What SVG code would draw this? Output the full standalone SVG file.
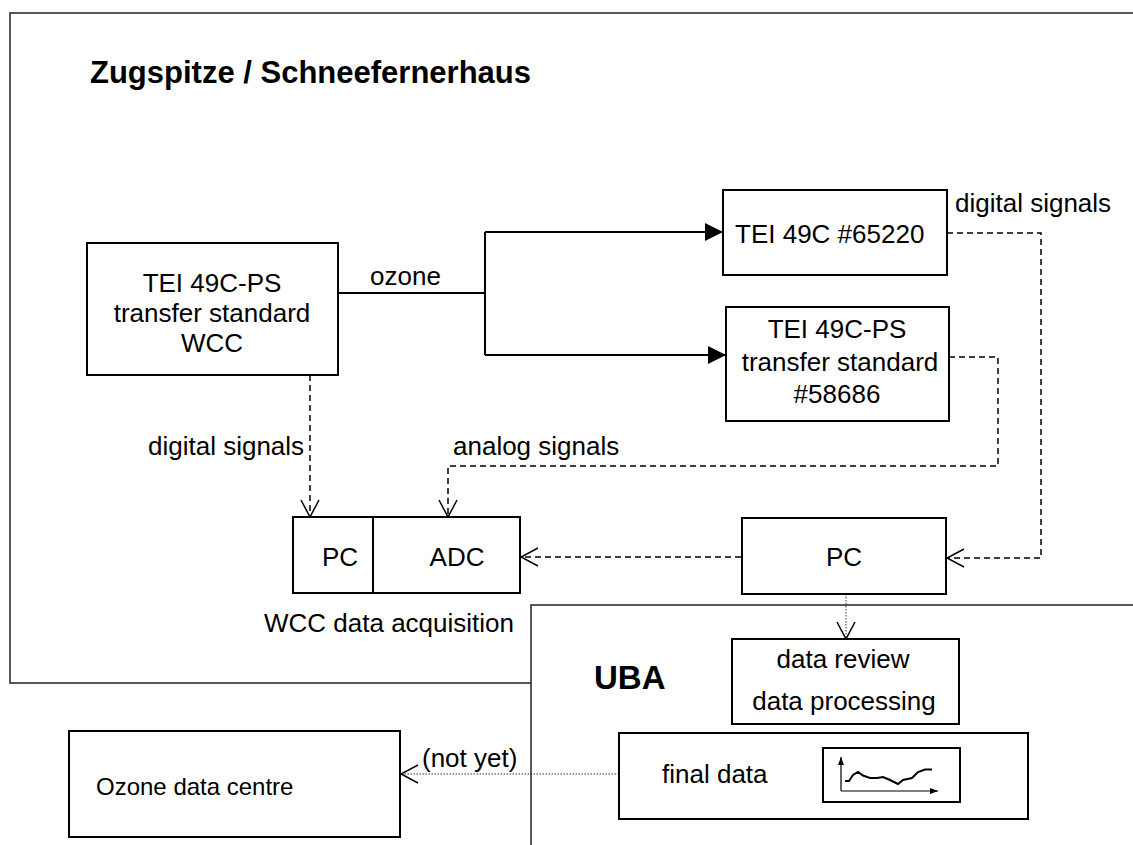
<svg xmlns="http://www.w3.org/2000/svg" width="1133" height="845" viewBox="0 0 1133 845">
<defs>
<style>
text{font-family:"Liberation Sans",Arial,sans-serif;font-size:26px;fill:#000}
.b{font-weight:bold;font-size:31px}
.c{text-anchor:middle}
.box{fill:#fff;stroke:#000;stroke-width:2}
.frame{fill:none;stroke:#222;stroke-width:1.5}
.solid{fill:none;stroke:#000;stroke-width:2}
.dash{fill:none;stroke:#000;stroke-width:1.5;stroke-dasharray:6 4}
.dot{fill:none;stroke:#333;stroke-width:1;stroke-dasharray:1.5 1.5}
</style>
<marker id="fa" viewBox="0 0 18 18" refX="18" refY="9" markerWidth="18" markerHeight="18" markerUnits="userSpaceOnUse" orient="auto">
<path d="M0,0 L18,9 L0,18 Z" fill="#000" stroke="none"/>
</marker>
<marker id="oa" viewBox="0 0 19 20" refX="18" refY="10" markerWidth="19" markerHeight="20" markerUnits="userSpaceOnUse" orient="auto">
<path d="M1,1 L18,10 L1,19" fill="none" stroke="#000" stroke-width="1.5" stroke-dasharray="none"/>
</marker>
<marker id="sa" viewBox="0 0 8 6" refX="8" refY="3" markerWidth="8" markerHeight="6" markerUnits="userSpaceOnUse" orient="auto">
<path d="M0,0 L8,3 L0,6 Z" fill="#000"/>
</marker>
</defs>
<rect width="1133" height="845" fill="#fff"/>

<g id="frame-zugspitze">
<path class="frame" d="M1133,13 H10 V683 H531"/>
<text class="b" x="90" y="83">Zugspitze / Schneefernerhaus</text>
</g>
<g id="frame-uba">
<path class="frame" d="M531,845 V605 H1133"/>
<text class="b" x="594" y="689" style="font-size:33px">UBA</text>
</g>

<g id="connectors">
<path class="solid" d="M338,293 H485"/>
<path class="solid" d="M485,232 V355"/>
<path class="solid" d="M485,232 H723" marker-end="url(#fa)"/>
<path class="solid" d="M485,355 H726" marker-end="url(#fa)"/>
<path class="dash" d="M947,233 H1041 V558 H947" marker-end="url(#oa)"/>
<path class="dash" d="M949,357 H998 V466 H448 V517" marker-end="url(#oa)"/>
<path class="dash" d="M310,375 V517" marker-end="url(#oa)"/>
<path class="dash" d="M741,557 H521" marker-end="url(#oa)"/>
<path class="dot" d="M846,594 V639" marker-end="url(#oa)"/>
<path class="dot" d="M619,774 H401" marker-end="url(#oa)"/>
<text x="370" y="285">ozone</text>
<text x="955" y="212">digital signals</text>
<text x="148" y="455">digital signals</text>
<text x="453" y="455">analog signals</text>
<text x="422" y="767">(not yet)</text>
</g>

<g id="tei-wcc">
<rect class="box" x="87" y="243" width="251" height="132"/>
<text class="c" x="212" y="292">TEI 49C-PS</text>
<text class="c" x="212" y="322">transfer standard</text>
<text class="c" x="212" y="352">WCC</text>
</g>

<g id="tei-65220">
<rect class="box" x="723" y="190" width="224" height="85"/>
<text x="735" y="243">TEI 49C #65220</text>
</g>

<g id="tei-58686">
<rect class="box" x="726" y="307" width="223" height="114"/>
<text class="c" x="837" y="338">TEI 49C-PS</text>
<text class="c" x="840" y="371">transfer standard</text>
<text class="c" x="837" y="403">#58686</text>
</g>

<g id="pc-adc">
<rect class="box" x="293" y="517" width="227" height="76"/>
<line x1="373" y1="517" x2="373" y2="593" stroke="#000" stroke-width="2"/>
<text class="c" x="340" y="566">PC</text>
<text class="c" x="457" y="566">ADC</text>
<text x="264" y="632">WCC data acquisition</text>
</g>

<g id="pc">
<rect class="box" x="742" y="518" width="204" height="76"/>
<text class="c" x="844" y="566">PC</text>
</g>

<g id="data-review">
<rect class="box" x="732" y="639" width="227" height="85"/>
<text class="c" x="843" y="668">data review</text>
<text class="c" x="844" y="710">data processing</text>
</g>

<g id="final-data">
<rect class="box" x="619" y="733" width="409" height="86"/>
<text x="662" y="783">final data</text>
<rect class="box" x="823" y="748" width="137" height="54"/>
<path d="M841,791 V757" fill="none" stroke="#000" stroke-width="1.2" marker-end="url(#sa)"/>
<path d="M841,791 H938" fill="none" stroke="#000" stroke-width="1.2" marker-end="url(#sa)"/>
<path d="M845,781 L849,781 L853,775 L858,772 L863,775.5 L870,778 L877,778 L883,777 L890,780 L898,784 L903,780 L912,778 L918,772 L925,769.5 L932,769.5" fill="none" stroke="#000" stroke-width="2"/>
</g>

<g id="ozone-data-centre">
<rect class="box" x="69" y="731" width="331" height="106"/>
<text x="96" y="795" style="font-size:24px">Ozone data centre</text>
</g>
</svg>
